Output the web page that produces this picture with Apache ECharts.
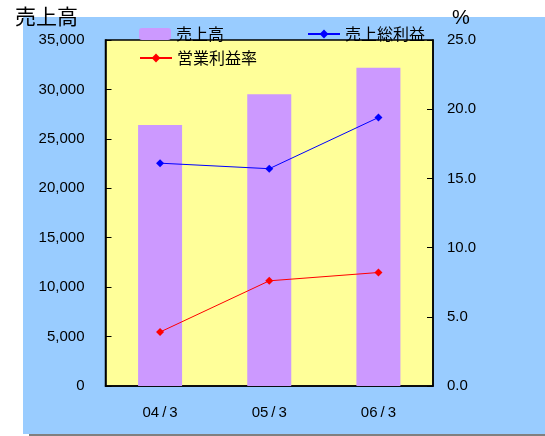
<!DOCTYPE html>
<html><head><meta charset="utf-8">
<script src="https://cdn.jsdelivr.net/npm/echarts@6/dist/echarts.min.js"></script>
<style>html,body{margin:0;padding:0;background:#fff;}#c{width:545px;height:436px;}</style>
</head><body><div id="c"></div>
<script>
const categories = ['04/3', '05/3', '06/3'];
const sales = [26400, 29500, 32200];
const grossMargin = [16.1, 15.7, 19.4];
const opMargin = [3.9, 7.6, 8.2];
const leftTicks = [0, 5000, 10000, 15000, 20000, 25000, 30000, 35000];
const rightTicks = [0, 5, 10, 15, 20, 25];

const FONT = '"Liberation Sans", Arial, "Noto Sans CJK JP", sans-serif';
const JFONT = '"Noto Sans CJK JP", sans-serif';
const chart = echarts.init(document.getElementById('c'), null, {renderer: 'canvas'});
const legendText = {fontFamily: JFONT, fontSize: 16, color: '#000'};
chart.setOption({
  animation: false,
  backgroundColor: '#fff',
  graphic: [
    {type: 'rect', z: -10, shape: {x: 29, y: 22, width: 520, height: 414}, style: {fill: '#808080'}},
    {type: 'rect', z: -9, shape: {x: 23, y: 17, width: 522, height: 417}, style: {fill: '#99ccff'}},
    {type: 'text', left: 15, top: 6, style: {text: '売上高', font: '21px ' + JFONT, fill: '#000'}},
    {type: 'text', left: 452, top: 8, style: {text: '%', font: '20px ' + FONT, fill: '#000'}}
  ],
  legend: [
    {data: ['売上高'], left: 139, top: 26, itemWidth: 32, itemHeight: 12, itemGap: 5, textStyle: legendText, padding: 0},
    {data: ['売上総利益'], left: 307, top: 26, itemWidth: 32, itemHeight: 11, textStyle: legendText, padding: 0},
    {data: ['営業利益率'], left: 139, top: 50, itemWidth: 32, itemHeight: 11, textStyle: legendText, padding: 0}
  ],
  grid: {left: 105.5, top: 40, right: 112, bottom: 50, show: true, backgroundColor: '#ffff99', borderColor: '#000', borderWidth: 1.5},
  xAxis: {
    type: 'category', data: categories,
    axisLine: {show: true, lineStyle: {color: '#000', width: 1.5}},
    axisTick: {show: false},
    axisLabel: {fontFamily: FONT, fontSize: 15, color: '#000', margin: 19,
      formatter: v => v.replace('/', '\u2009/\u2009')}
  },
  yAxis: [
    {type: 'value', min: 0, max: 35000, interval: 5000,
     axisLine: {show: true, lineStyle: {color: '#000', width: 1.5}},
     axisTick: {show: true, inside: true, length: 6, lineStyle: {color: '#000'}},
     splitLine: {show: false},
     axisLabel: {fontFamily: FONT, fontSize: 15, color: '#000', margin: 21,
       formatter: v => leftTicks.includes(v) ? v.toLocaleString('en-US') : ''}},
    {type: 'value', min: 0, max: 25, interval: 5,
     axisLine: {show: true, lineStyle: {color: '#000', width: 1.5}},
     axisTick: {show: true, inside: true, length: 6, lineStyle: {color: '#000'}},
     splitLine: {show: false},
     axisLabel: {fontFamily: FONT, fontSize: 15, color: '#000', margin: 14,
       formatter: v => rightTicks.includes(v) ? v.toFixed(1) : ''}}
  ],
  series: [
    {name: '売上高', type: 'bar', data: sales, barWidth: 44, itemStyle: {color: '#cc99ff'}, z: 1},
    {name: '売上総利益', type: 'line', yAxisIndex: 1, data: grossMargin, symbol: 'diamond', symbolSize: 8,
     lineStyle: {color: '#0000ff', width: 1}, itemStyle: {color: '#0000ff'}, z: 3},
    {name: '営業利益率', type: 'line', yAxisIndex: 1, data: opMargin, symbol: 'diamond', symbolSize: 8,
     lineStyle: {color: '#ff0000', width: 1}, itemStyle: {color: '#ff0000'}, z: 3}
  ]
});
</script></body></html>
